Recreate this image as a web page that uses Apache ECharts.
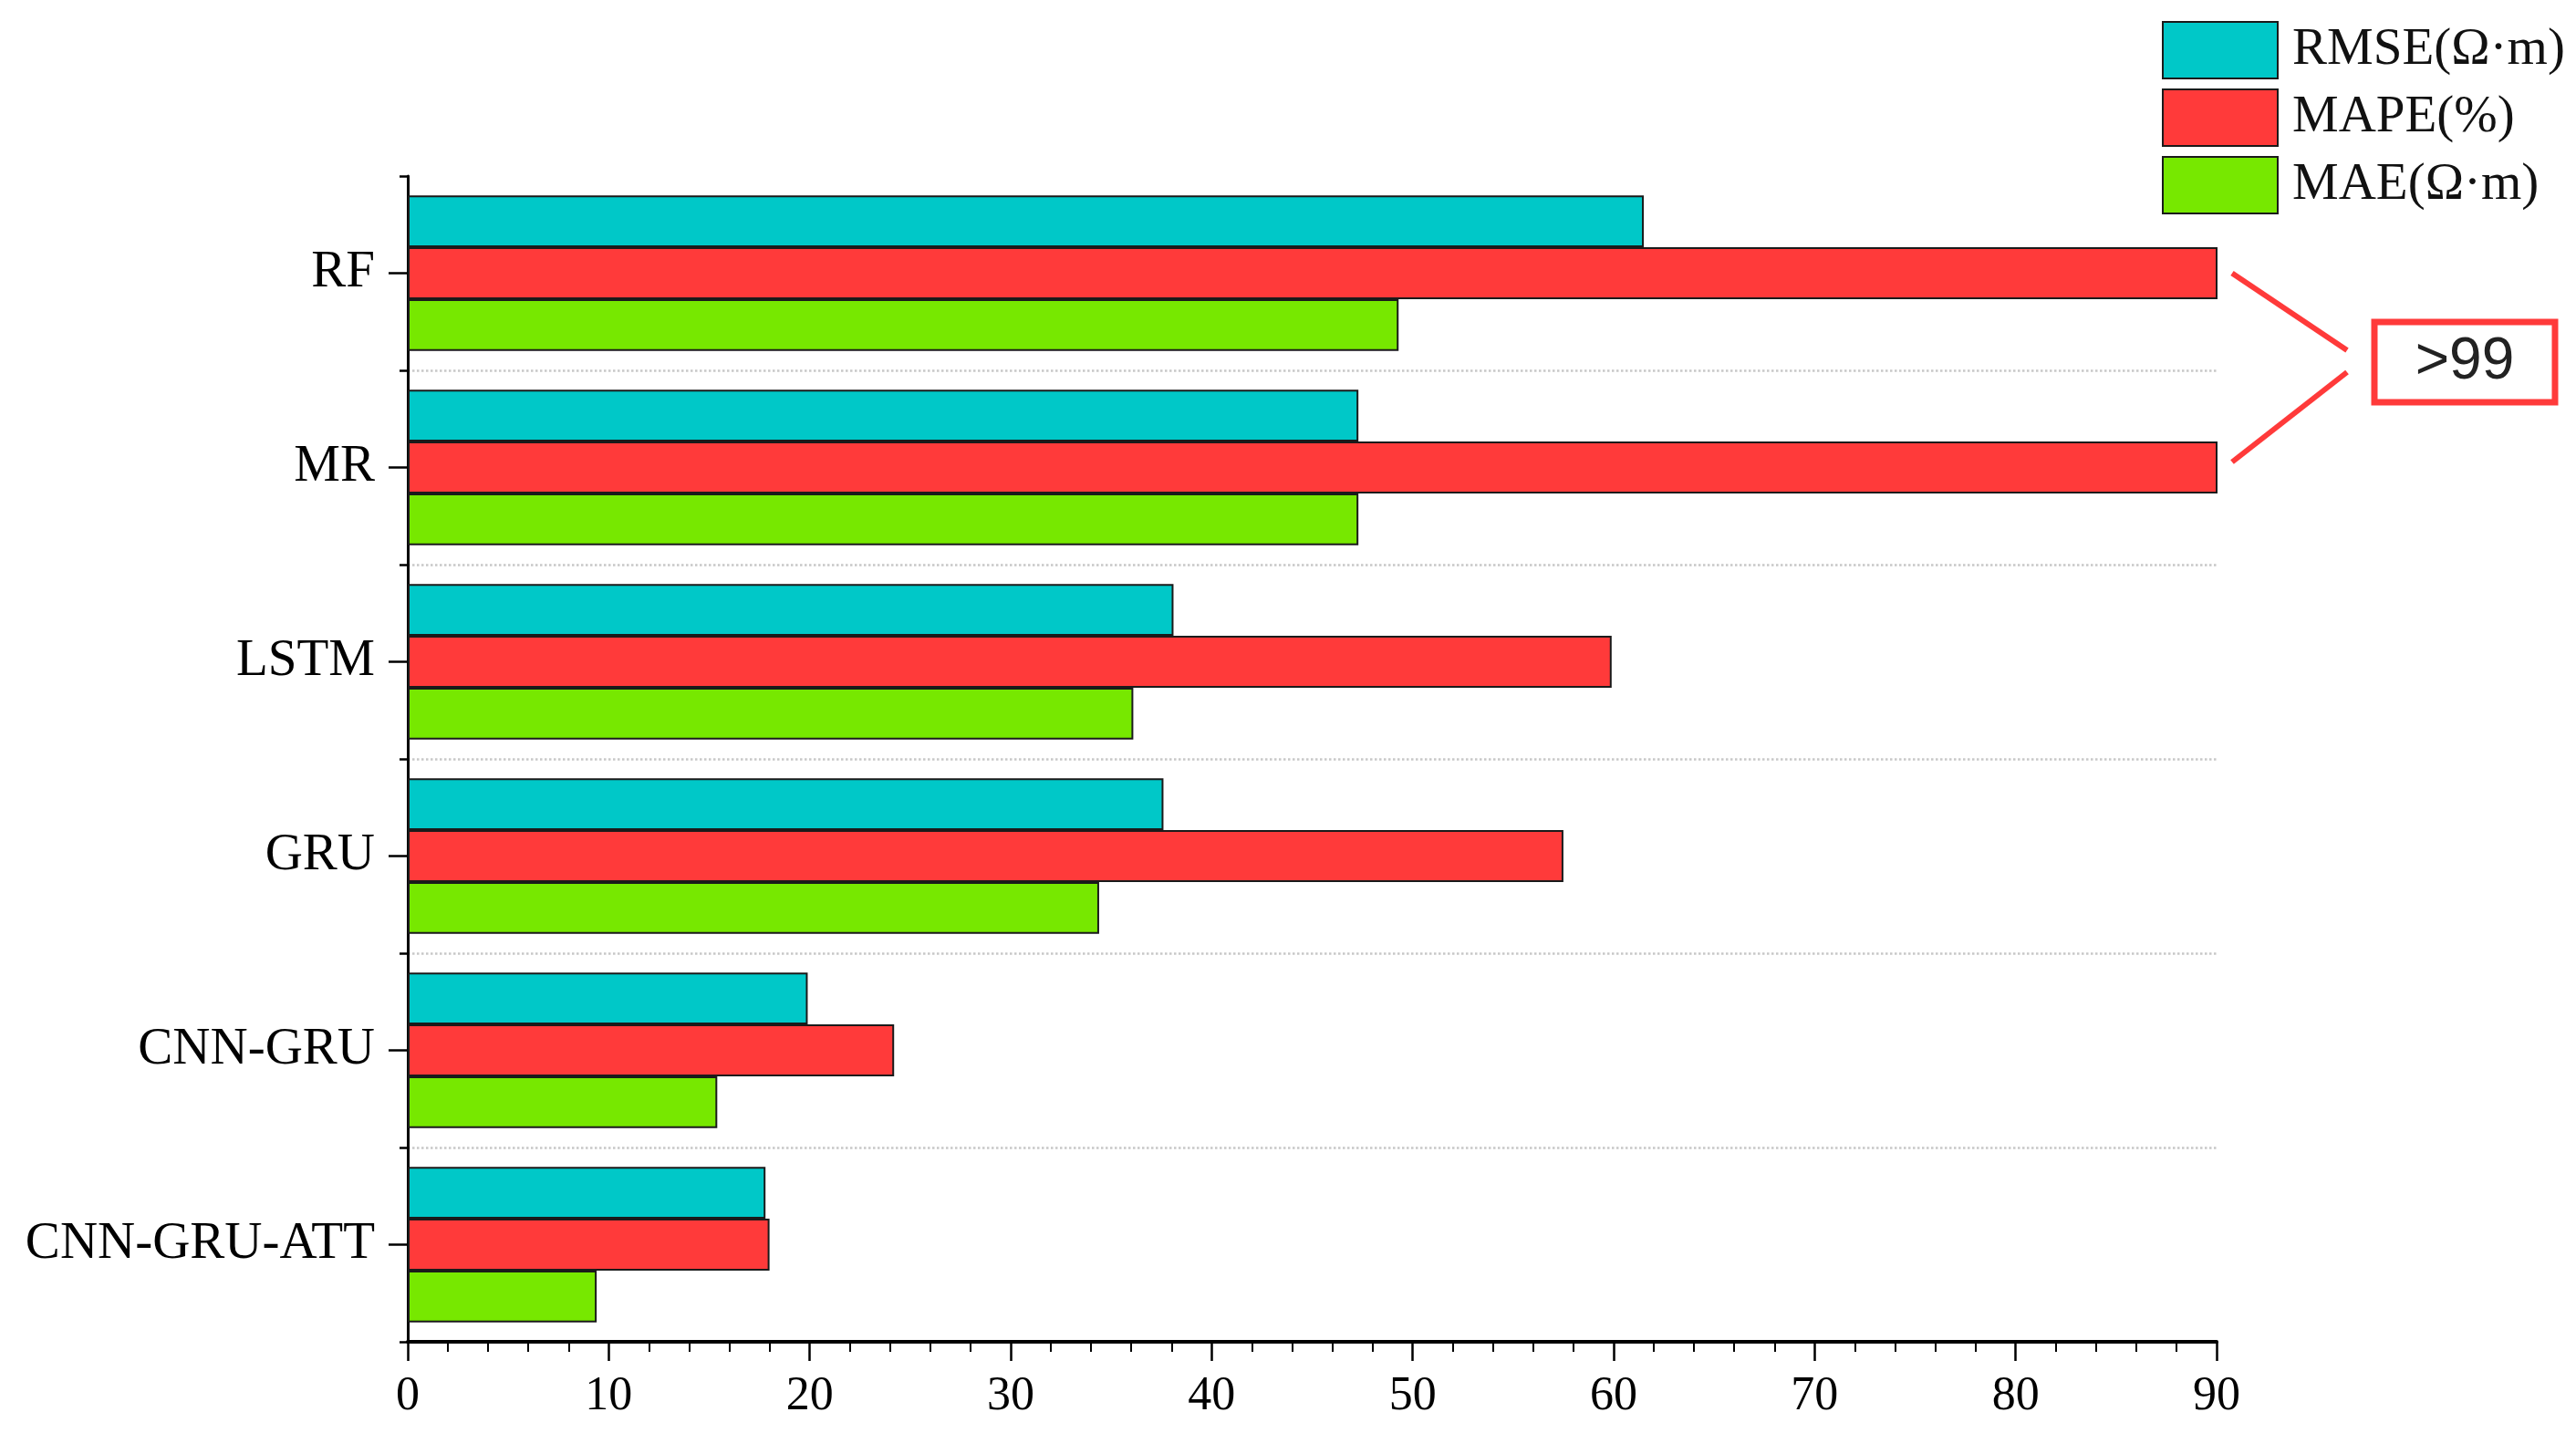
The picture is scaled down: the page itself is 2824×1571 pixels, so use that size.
<!DOCTYPE html>
<html>
<head>
<meta charset="utf-8">
<script src="https://cdn.jsdelivr.net/npm/echarts@6/dist/echarts.min.js"></script>
<style>
html,body{margin:0;padding:0;background:#fff;}
#chart{width:2824px;height:1571px;}
</style>
</head>
<body>
<div id="chart"></div>
<script>
// ---- data ----
const categories = ['RF', 'MR', 'LSTM', 'GRU', 'CNN-GRU', 'CNN-GRU-ATT'];
const seriesNames = ['RMSE(Ω·m)', 'MAPE(%)', 'MAE(Ω·m)'];
const rmse = [61.5, 47.3, 38.1, 37.6, 19.9, 17.8];
const mape = [100, 100, 59.9, 57.5, 24.2, 18.0]; // RF and MR are >99, shown clipped at the axis end
const mae  = [49.3, 47.3, 36.1, 34.4, 15.4, 9.4];
const xMin = 0, xMax = 90, xInterval = 10;
const annotationText = '>99';

const colors = ['#00C8C8', '#FF3A3A', '#77E800'];
const serif = '"Liberation Serif", "Times New Roman", serif';

const chart = echarts.init(document.getElementById('chart'));

function barSeries(name, data, color) {
  return {
    name: name,
    type: 'bar',
    yAxisIndex: 0,
    data: data,
    barGap: '0%',
    barCategoryGap: '20%',
    clip: true,
    itemStyle: { color: color, borderColor: '#1a1a1a', borderWidth: 2 },
    emphasis: { disabled: true }
  };
}

const option = {
  backgroundColor: '#ffffff',
  animation: false,
  grid: { left: 447, right: 394, top: 193, bottom: 100, containLabel: false },
  legend: {
    orient: 'vertical',
    left: 2365,
    top: 18,
    itemWidth: 126,
    itemHeight: 62,
    itemGap: 10,
    icon: 'rect',
    selectedMode: false,
    textStyle: { fontFamily: serif, fontSize: 57, color: '#111', padding: [0, 0, 0, 11] },
    data: seriesNames
  },
  xAxis: {
    type: 'value',
    min: xMin,
    max: xMax,
    interval: xInterval,
    axisLine: { show: true, onZero: false, lineStyle: { color: '#000', width: 4 } },
    axisTick: { show: true, length: 21, lineStyle: { color: '#000', width: 2.5 } },
    minorTick: { show: true, splitNumber: 5, length: 11, lineStyle: { color: '#000', width: 2 } },
    splitLine: { show: false },
    axisLabel: { fontFamily: serif, fontSize: 52, color: '#000', margin: 34 }
  },
  yAxis: [
    {
      type: 'category',
      data: categories,
      inverse: true,
      position: 'left',
      axisLine: { show: true, lineStyle: { color: '#000', width: 3 } },
      axisTick: { show: true, alignWithLabel: true, length: 21, lineStyle: { color: '#000', width: 2.5 } },
      axisLabel: { fontFamily: serif, fontSize: 57, color: '#000', margin: 36 },
      splitLine: { show: false }
    },
    {
      type: 'category',
      data: categories,
      inverse: true,
      position: 'left',
      axisLine: { show: false },
      axisTick: { show: true, length: 9, lineStyle: { color: '#000', width: 2.5 } },
      axisLabel: { show: false },
      splitLine: { show: true, showMinLine: false, showMaxLine: false, lineStyle: { color: '#c8c8c8', width: 2.5, type: 'dotted' } }
    }
  ],
  series: [
    barSeries(seriesNames[0], rmse, colors[0]),
    barSeries(seriesNames[1], mape, colors[1]),
    barSeries(seriesNames[2], mae, colors[2])
  ]
};
chart.setOption(option);

// annotation for the clipped MAPE bars
const x90 = chart.convertToPixel({ xAxisIndex: 0 }, xMax);
const yRF = chart.convertToPixel({ yAxisIndex: 0 }, 'RF');
const yMR = chart.convertToPixel({ yAxisIndex: 0 }, 'MR');
const apexX = x90 + 143;
const boxX = x90 + 173, boxW = 198, boxH = 88;
const boxCY = (yRF + yMR) / 2 - 9;
chart.setOption({
  graphic: [
    { type: 'line', shape: { x1: x90 + 17, y1: yRF, x2: apexX, y2: boxCY - 13 }, style: { stroke: '#FF3A3A', lineWidth: 6 } },
    { type: 'line', shape: { x1: apexX, y1: boxCY + 11, x2: x90 + 17, y2: yMR - 6 }, style: { stroke: '#FF3A3A', lineWidth: 6 } },
    { type: 'rect', shape: { x: boxX, y: boxCY - boxH / 2, width: boxW, height: boxH }, style: { fill: '#fff', stroke: '#FF3A3A', lineWidth: 7 } },
    { type: 'text', x: boxX + boxW / 2, y: boxCY, style: { text: annotationText, font: '64px "Liberation Sans", "Noto Sans", sans-serif', fill: '#222', align: 'center', verticalAlign: 'middle' } }
  ]
});
</script>
</body>
</html>
